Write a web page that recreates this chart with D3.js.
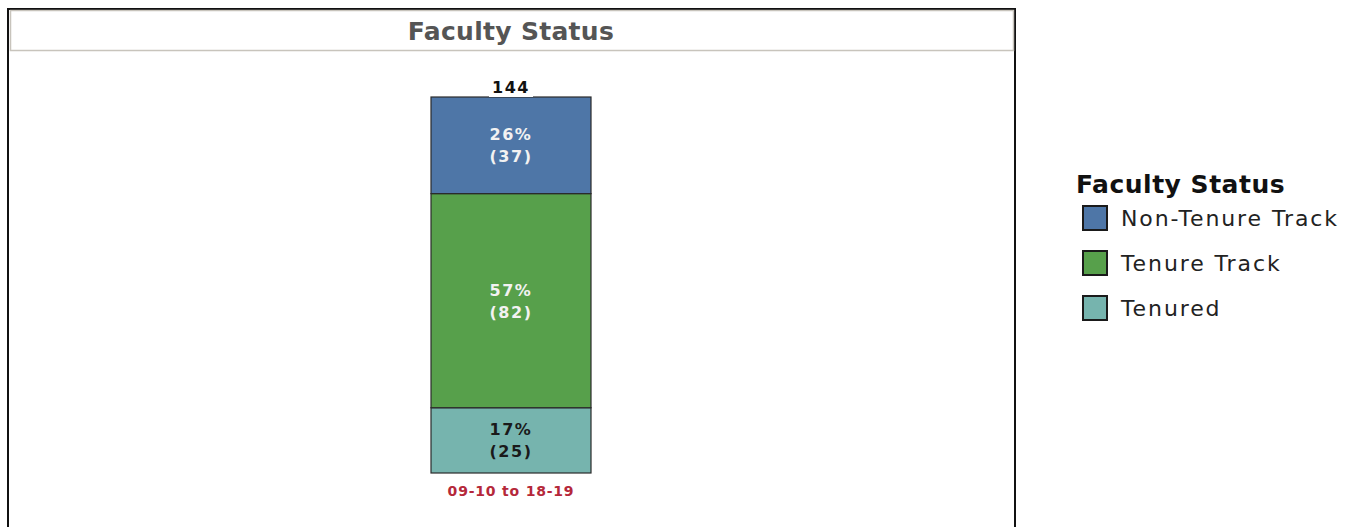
<!DOCTYPE html>
<html>
<head>
<meta charset="utf-8">
<script src="https://cdn.jsdelivr.net/npm/d3@7"></script>
<style>
  body { margin: 0; background: #fff; }
  text { font-family: "DejaVu Sans", Verdana, sans-serif; }
</style>
</head>
<body>
<div id="chart"></div>
<script>
const categories = ["09-10 to 18-19"];
const statuses = ["Non-Tenure Track", "Tenure Track", "Tenured"];
const counts = {
  "Non-Tenure Track": [37],
  "Tenure Track": [82],
  "Tenured": [25]
};
const colors = ["#4e76a7", "#57a04b", "#76b4ae"];

const W = 1351, H = 527;
const svg = d3.select("#chart").append("svg")
    .attr("width", W)
    .attr("height", H);

// outer frame + header
svg.append("rect")
    .attr("x", 8).attr("y", 9)
    .attr("width", 1007).attr("height", 540)
    .attr("fill", "none").attr("stroke", "#111").attr("stroke-width", 2);
svg.append("rect")
    .attr("x", 10.5).attr("y", 10.5)
    .attr("width", 1003).attr("height", 40)
    .attr("fill", "#fff").attr("stroke", "#c8c4bc").attr("stroke-width", 1.5);
svg.append("text")
    .attr("x", 511).attr("y", 40)
    .attr("text-anchor", "middle")
    .style("font-weight", "bold")
    .style("font-size", "25px")
    .style("letter-spacing", "0.3px")
    .attr("fill", "#555")
    .text("Faculty Status");

// stack data
const table = categories.map((c, i) => {
  const row = {category: c};
  statuses.forEach(s => row[s] = counts[s][i]);
  return row;
});
// draw tenured at bottom
const stack = d3.stack().keys(statuses.slice().reverse());
const series = stack(table);
const totals = table.map(r => d3.sum(statuses, s => r[s]));

const x = d3.scaleBand()
    .domain(categories)
    .range([431, 591])
    .padding(0);
const y = d3.scaleLinear()
    .domain([0, d3.max(totals)])
    .range([473, 97]);
const color = d3.scaleOrdinal().domain(statuses).range(colors);

const g = svg.append("g");
series.forEach(ser => {
  const key = ser.key;
  ser.forEach((d, i) => {
    const cat = categories[i];
    const y0 = y(d[0]), y1 = y(d[1]);
    g.append("rect")
      .attr("x", x(cat))
      .attr("y", y1)
      .attr("width", x.bandwidth())
      .attr("height", y0 - y1)
      .attr("fill", color(key))
      .attr("stroke", "#2b2b2b")
      .attr("stroke-width", 1.2);
    const pct = Math.round(100 * (d[1] - d[0]) / totals[i]);
    const cx = x(cat) + x.bandwidth() / 2;
    const cy = (y0 + y1) / 2;
    const fill = key === "Tenured" ? "#1a1a1a" : "#f2f2f2";
    const t = g.append("text")
      .attr("text-anchor", "middle")
      .style("font-weight", "bold")
      .style("font-size", "16px")
      .style("letter-spacing", "1.5px")
      .attr("fill", fill);
    t.append("tspan").attr("x", cx).attr("y", cy - 5).text(pct + "%");
    t.append("tspan").attr("x", cx).attr("y", cy + 17).text("(" + (d[1] - d[0]) + ")");
  });
});

// totals
categories.forEach((cat, i) => {
  const cx = x(cat) + x.bandwidth() / 2;
  svg.append("rect")
    .attr("x", cx - 22).attr("y", y(totals[i]) - 18)
    .attr("width", 44).attr("height", 18)
    .attr("fill", "#fff");
  svg.append("text")
    .attr("x", cx).attr("y", y(totals[i]) - 4)
    .attr("text-anchor", "middle")
    .style("font-weight", "bold")
    .style("font-size", "16px")
    .style("letter-spacing", "1.5px")
    .attr("fill", "#111")
    .text(totals[i]);
  svg.append("text")
    .attr("x", cx).attr("y", 496)
    .attr("text-anchor", "middle")
    .style("font-weight", "bold")
    .style("font-size", "14px")
    .style("letter-spacing", "0.8px")
    .attr("fill", "#b5283a")
    .text(cat);
});

// legend
const lg = svg.append("g");
lg.append("text")
  .attr("x", 1076).attr("y", 193)
  .style("font-weight", "bold")
  .style("font-size", "25px")
  .style("letter-spacing", "0.5px")
  .attr("fill", "#111")
  .text("Faculty Status");
statuses.forEach((s, i) => {
  const yy = 206 + i * 45;
  lg.append("rect")
    .attr("x", 1083).attr("y", yy)
    .attr("width", 24).attr("height", 24)
    .attr("fill", color(s))
    .attr("stroke", "#1a1a1a").attr("stroke-width", 2);
  lg.append("text")
    .attr("x", 1121).attr("y", yy + 20)
    .style("font-size", "22px")
    .style("letter-spacing", "1.9px")
    .attr("fill", "#222")
    .text(s);
});
</script>
</body>
</html>
